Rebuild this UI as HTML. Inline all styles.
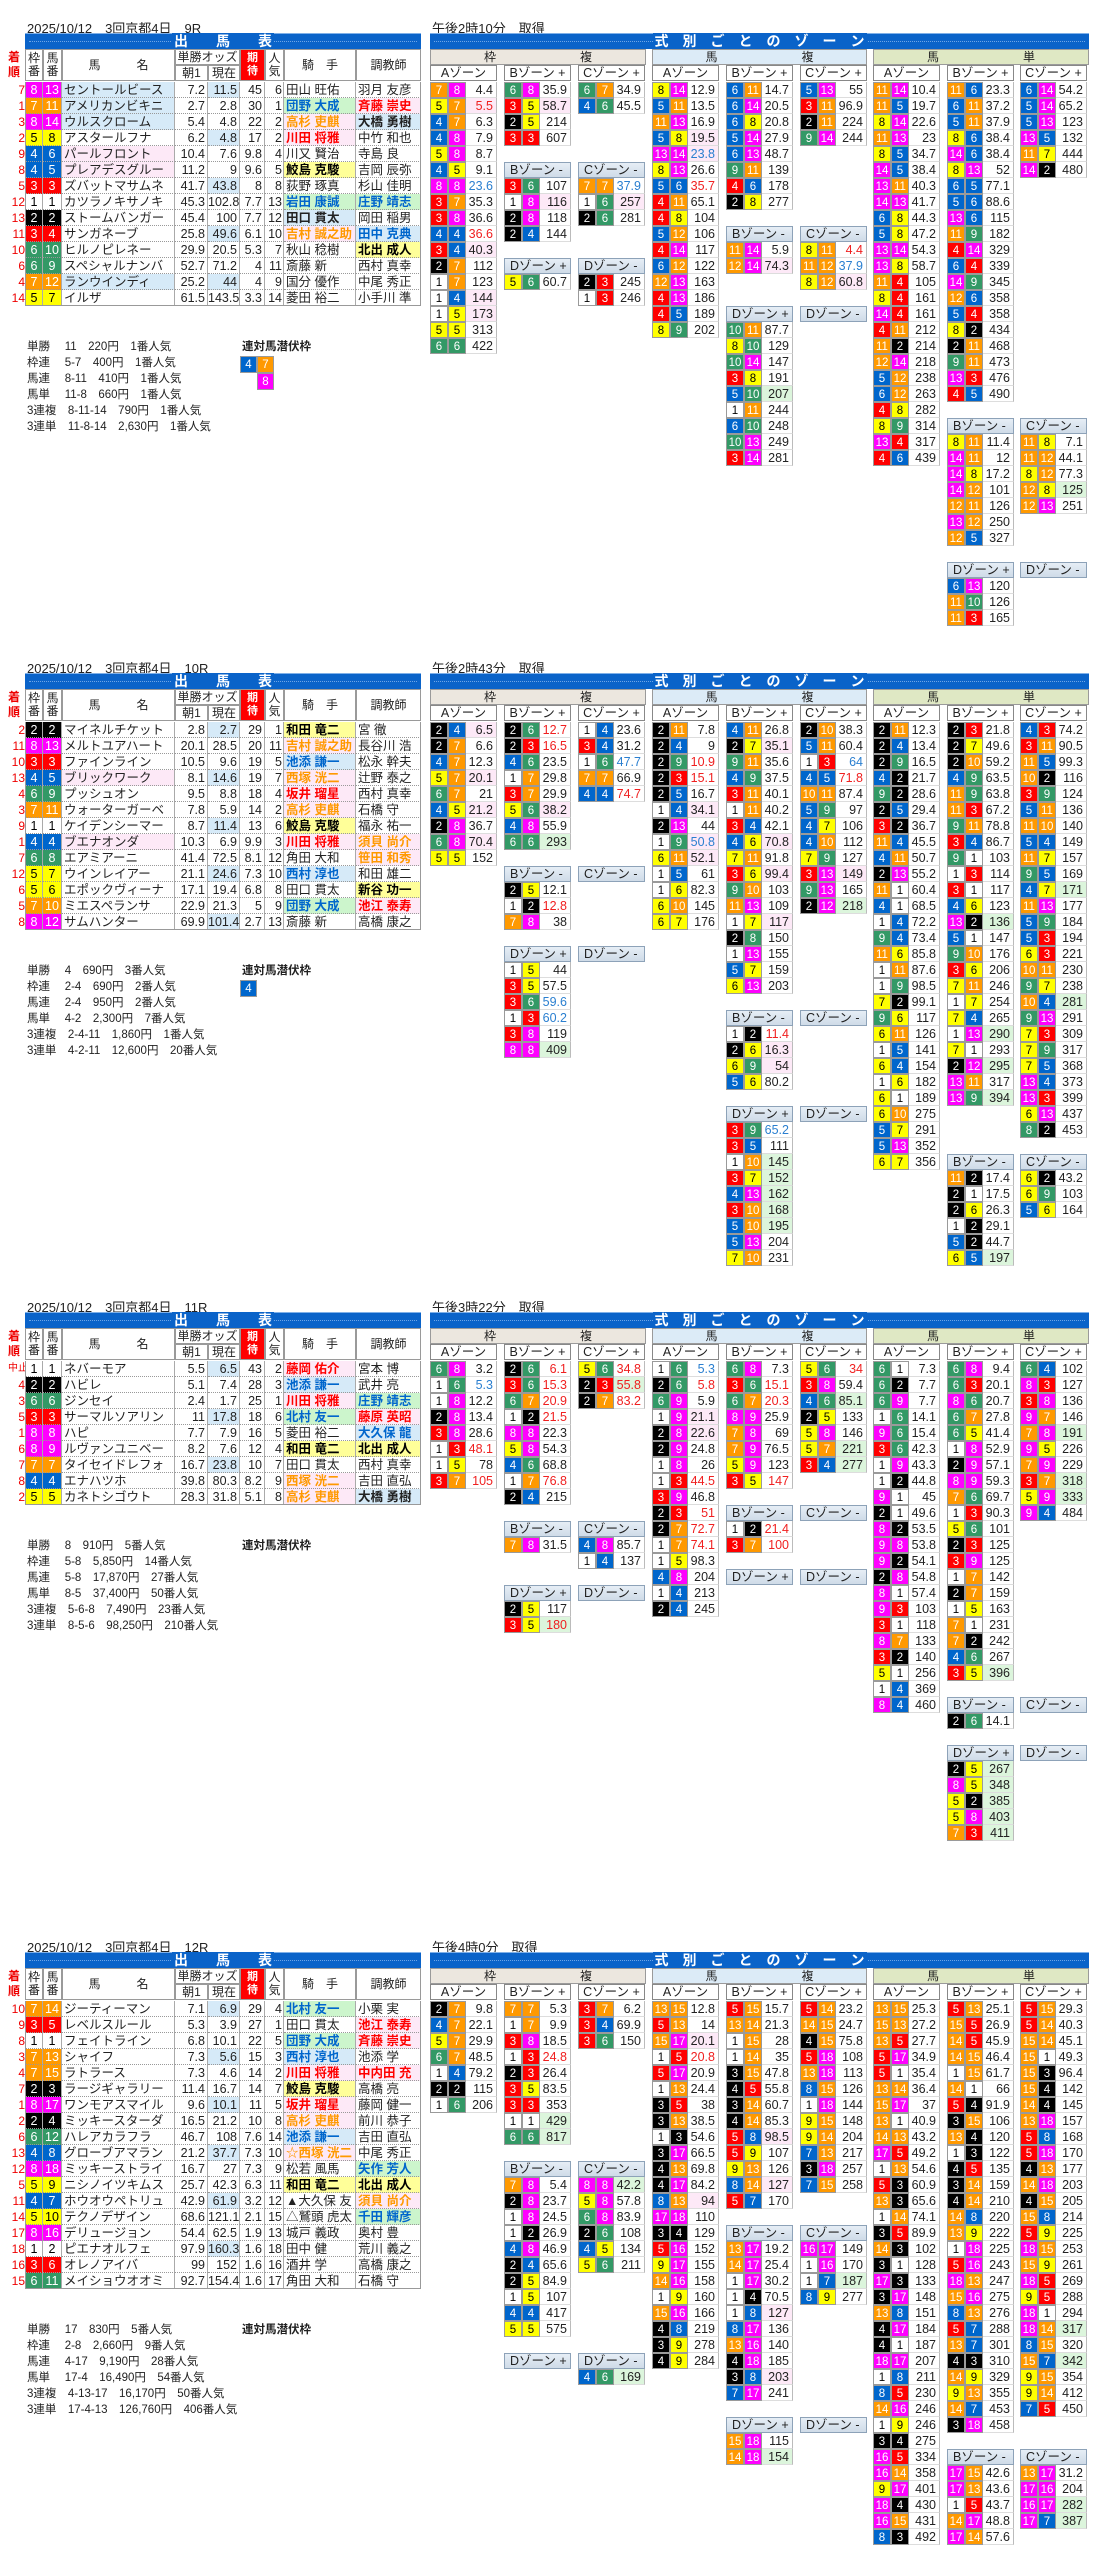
<!DOCTYPE html>
<html><head><meta charset="utf-8">
<style>
*{box-sizing:border-box;margin:0;padding:0}
body{width:1093px;height:2560px;background:#fff;position:relative;overflow:hidden;font-family:"Liberation Sans","Noto Sans CJK JP",sans-serif;font-size:12px;color:#222}
.a{position:absolute;white-space:nowrap}
.bar{background:#0a63c9;color:#fff;font-weight:bold;font-size:14px;text-align:center;line-height:15px;border-top:1px solid #7fb0e8}
.bar:after{content:"";position:absolute;left:4px;right:4px;top:7px;border-top:1px dotted #6fa6e6;z-index:0}
.bar span{position:relative;z-index:1;background:#0a63c9;padding:0 2px}
.c{position:absolute;height:16px;line-height:16px;text-align:center;font-size:11.5px;border:1px solid #9a9a9a}
.v{position:absolute;height:16px;line-height:16px;text-align:right;padding-right:3px;font-size:12.5px;border-right:1px solid #bbb;border-bottom:1px solid #ddd}
.zh{position:absolute;height:16px;line-height:15px;background:linear-gradient(#e6eef6,#cfdbe8);border:1px solid #8da2b8;font-size:12.5px;padding-left:5px}
.zs{position:absolute;height:16px;line-height:15px;background:#fff;border:1px solid #888;font-size:12.5px;text-align:center}
.th{position:absolute;border:1px solid #9a9a9a;text-align:center;font-size:12px;background:#fff;display:flex;align-items:center;justify-content:center;line-height:13px}
.td{position:absolute;height:16px;line-height:16px;font-size:12.5px;border-right:1px solid #aaa;border-bottom:1px dotted #999;overflow:hidden}
.pay{position:absolute;font-size:11.5px;line-height:16px}
</style></head><body>
<script>
const FC={1:['#fff','#000'],2:['#000','#fff'],3:['#f00','#fff'],4:['#0066cc','#fff'],5:['#ff0','#000'],6:['#339966','#fff'],7:['#f90','#fff'],8:['#f0f','#fff']};
const ST={b:['#d6eaf8','#0066cc'],g:['#ccf5cc','#0066cc'],o:['#fde9f7','#f90'],r:['#fde9f7','#f00'],y:['#ffff99','#000'],p:['#fde9f7','#222'],l:['#d6eaf8','#222']};
const COLX=[430,504,578,652,726,800,873,947,1020];
let H='';
function el(cls,x,y,w,h,txt,style){H+=`<div class="${cls}" style="left:${x}px;top:${y}px;width:${w}px;${h?'height:'+h+'px;':''}${style||''}">${txt}</div>`;}
function frames(N){const cnt=Array(9).fill(1);let ex=N-8,f=8;while(ex>0){cnt[f]++;ex--;f--;if(f<1)f=8;}const m={};let n=1;for(let i=1;i<=8;i++)for(let k=0;k<cnt[i];k++)m[n++]=i;return m;}
function cell(x,y,fr,n){const c=FC[fr]||FC[1];el('c',x,y,18,0,n,`background:${c[0]};color:${c[1]}`);}
function zoneRows(off,col,start,data,fm,isFrame){
 const x=COLX[col];let r=start;
 data.trim().split(/\s+/).forEach(t=>{if(!t)return;const m=t.match(/^(\d+)-(\d+)\/([\d.]+)([a-z]*)$/);if(!m)return;
  const y=off+82+16*r;const a=+m[1],b=+m[2];
  cell(x,y,isFrame?a:fm[a],a);cell(x+18,y,isFrame?b:fm[b],b);
  let bg='#fff',co='#222';const f=m[4];
  if(f.includes('p'))bg='#fde9f7';if(f.includes('g'))bg='#dcf5dc';
  if(f.includes('r'))co='#f02020';if(f.includes('b'))co='#2a7fd0';
  el('v',x+36,y,31,0,m[3],`background:${bg};color:${co}`);r++;});
}
function section(S){
 const off=S.off,N=S.horses.length,fm=frames(N);
 el('a',27,off+18,200,16,S.title,'font-size:13px');
 el('a',432,off+18,200,16,S.time,'font-size:13px');
 el('a bar',25,off+33,396,16,'<span>出　　馬　　表</span>');
 el('a bar',430,off+33,659,16,'<span>式　別　ご　と　の　ゾ　ー　ン</span>');
 // category headers
 el('th',430,off+49,216,16,'枠　　　　　　　複','background:#ece7df');
 el('th',652,off+49,215,16,'馬　　　　　　　複','background:#dcebf7');
 el('th',873,off+49,216,16,'馬　　　　　　　単','background:#dfe8c4');
 const lab=['Aゾーン','Bゾーン +','Cゾーン +'];
 for(let i=0;i<9;i++)el('zs',COLX[i],off+65,67,16,lab[i%3]);
 // left table header
 el('a',8,off+50,18,30,'着<br>順','color:#e00;font-size:12px;line-height:15px;font-weight:bold');
 el('th',25,off+49,18,32,'枠<br>番');
 el('th',43,off+49,19,32,'馬<br>番');
 el('th',62,off+49,113,32,'馬　　　名');
 el('th',175,off+49,65,16,'単勝オッズ');
 el('th',175,off+65,33,16,'朝1');
 el('th',208,off+65,32,16,'現在');
 el('th',240,off+49,25,32,'期<br>待','background:#f00;color:#fff;font-size:11px;font-weight:bold');
 el('th',265,off+49,19,32,'人<br>気');
 el('th',284,off+49,72,32,'騎　手');
 el('th',356,off+49,65,32,'調教師');
 S.horses.forEach((h,i)=>{
  const y=off+82+16*i;const [rk,fr,num,name,am,now,ex,pop,jk,tr,nb]=h;
  el('a',8,y,17,16,rk,'color:#e00;text-align:right;font-size:12px;line-height:16px;'+(rk=='中止'?'font-size:10px;':''));
  const c=FC[fr];
  el('td',25,y,18,16,fr,`background:${c[0]};color:${c[1]};text-align:center;border-left:1px solid #aaa`);
  el('td',43,y,19,16,num,`background:${c[0]};color:${c[1]};text-align:center`);
  const nbs=nb?ST[nb][0]:'#fff';
  el('td',62,y,113,16,name,`background:${nbs};padding-left:2px`);
  el('td',175,y,33,16,am,'text-align:right;padding-right:2px');
  el('td',208,y,32,16,now,'text-align:right;padding-right:2px;background:'+(i%3==0?'#d6eaf8':'#fff'));
  el('td',240,y,25,16,ex,'text-align:right;padding-right:2px');
  el('td',265,y,19,16,pop,'text-align:right;padding-right:1px');
  let [jn,js]=jk.split('|');let jst=js?ST[js]:['#fff','#222'];
  el('td',284,y,72,16,jn,`background:${jst[0]};color:${jst[1]};padding-left:2px;${js?'font-weight:bold;':''}`);
  let [tn,ts]=tr.split('|');let tst=ts?ST[ts]:['#fff','#222'];
  el('td',356,y,65,16,tn,`background:${tst[0]};color:${tst[1]};padding-left:2px;${ts?'font-weight:bold;':''}`);
 });
 el('a',25,off+82,396,16*N,'','border:1px solid #999;border-top:none');
 const py=off+82+16*N+33;
 S.pay.forEach((p,i)=>{el('pay',27,py+16*i,300,16,p);});
 el('pay',242,py,120,16,'連対馬潜伏枠','font-weight:bold');
 (S.fuku||[]).forEach((rw,ri)=>rw.forEach((f,ci)=>{if(f){const c=FC[f];el('c',240+17*ci,py+17+17*ri,17,0,f,`height:17px;background:${c[0]};color:${c[1]}`);}}));
 S.zones.forEach(z=>{
  const [col,h,label,data]=z;const isFrame=col<3;
  if(h<0){zoneRows(off,col,0,data,fm,isFrame);}
  else{el('zh',COLX[col],off+82+16*h,67,16,label);if(data)zoneRows(off,col,h+1,data,fm,isFrame);}
 });
}
const S1={off:0,title:'2025/10/12　3回京都4日　9R',time:'午後2時10分　取得',
horses:[
['7',8,13,'セントールビースト','7.2','11.5','45','6','田山 旺佑','羽月 友彦','l'],
['1',7,11,'アメリカンビキニ','2.7','2.8','30','1','団野 大成|g','斉藤 崇史|r','l'],
['3',8,14,'ウルスクローム','5.4','4.8','22','2','高杉 吏麒|o','大橋 勇樹|l','l'],
['2',5,8,'アスタールフナ','6.2','4.8','17','2','川田 将雅|r','中竹 和也'],
['9',4,6,'パールフロント','10.4','7.6','9.8','4','川又 賢治','寺島 良','p'],
['8',4,5,'プレアデスグループ','11.2','9','9.6','5','鮫島 克駿|y','吉岡 辰弥','p'],
['5',3,3,'ズバットマサムネ','41.7','43.8','8','8','荻野 琢真','杉山 佳明'],
['12',1,1,'カツラノキサノキ','45.3','102.8','7.7','13','岩田 康誠|g','庄野 靖志|g'],
['13',2,2,'ストームバンガード','45.4','100','7.7','12','田口 貫太|l','岡田 稲男'],
['11',3,4,'サンガネーブ','25.8','49.6','6.1','10','吉村 誠之助|o','田中 克典|b'],
['10',6,10,'ヒルノピレネー','29.9','20.5','5.3','7','秋山 稔樹','北出 成人|y'],
['6',6,9,'スペシャルナンバー','52.7','71.2','4','11','斎藤 新','西村 真幸'],
['4',7,12,'ランウインディ','25.2','44','4','9','国分 優作','中尾 秀正','l'],
['14',5,7,'イルザ','61.5','143.5','3.3','14','菱田 裕二','小手川 準']],
pay:['単勝　 11　220円　1番人気','枠連　 5-7　400円　1番人気','馬連　 8-11　410円　1番人気','馬単　 11-8　660円　1番人気','3連複　8-11-14　790円　1番人気','3連単　11-8-14　2,630円　1番人気'],
fuku:[[4,7],[0,8]],
zones:[
[0,-1,'','7-8/4.4 5-7/5.5rp 4-7/6.3 4-8/7.9 5-8/8.7 4-5/9.1 8-8/23.6b 3-7/35.3 3-8/36.6 4-4/36.6r 3-4/40.3p 2-7/112 1-7/123 1-4/144p 1-5/173p 5-5/313 6-6/422'],
[1,-1,'','6-8/35.9 3-5/58.7p 2-5/214 3-3/607'],
[2,-1,'','6-7/34.9 4-6/45.5'],
[1,5,'Bゾーン -','3-6/107 1-8/116p 2-8/118 2-4/144'],
[2,5,'Cゾーン -','7-7/37.9b 1-6/257p 2-6/281'],
[1,11,'Dゾーン +','5-6/60.7'],
[2,11,'Dゾーン -','2-3/245 1-3/246'],
[3,-1,'','8-14/12.9 5-11/13.5 11-13/16.9 5-8/19.5p 13-14/23.8bp 8-13/26.6 5-6/35.7r 4-11/65.1 4-8/104 5-12/106 4-14/117 6-12/122 12-13/163 4-13/186 4-5/189 8-9/202'],
[4,-1,'','6-11/14.7 6-14/20.5 6-8/20.8 5-14/27.9 6-13/48.7 9-11/139 4-6/178 2-8/277'],
[5,-1,'','5-13/55 3-11/96.9 2-11/224 9-14/244'],
[4,9,'Bゾーン -','11-14/5.9 12-14/74.3p'],
[5,9,'Cゾーン -','8-11/4.4r 11-12/37.9b 8-12/60.8p'],
[4,14,'Dゾーン +','10-11/87.7 8-10/129 10-14/147 3-8/191 5-10/207g 1-11/244 6-10/248 10-13/249 3-14/281'],
[5,14,'Dゾーン -',''],
[6,-1,'','11-14/10.4 11-5/19.7 8-14/22.6 11-13/23 8-5/34.7 14-5/38.4 13-11/40.3 14-13/41.7 6-8/44.3 5-8/47.2 13-14/54.3 13-8/58.7 11-4/105 8-4/161 14-4/161 4-11/212 11-2/214 12-14/218 5-12/238 6-12/263 4-8/282 8-9/314 13-4/317 4-6/439'],
[7,-1,'','11-6/23.3 6-11/37.2 5-11/37.9 8-6/38.4 14-6/38.4 8-13/52 6-5/77.1 5-6/88.6 13-6/115 11-9/182 4-14/329 6-4/339 14-9/345 12-6/358 5-4/358 8-2/434 2-11/468 9-11/473 13-3/476 4-5/490'],
[8,-1,'','6-14/54.2 5-14/65.2 5-13/123 13-5/132 11-7/444 14-2/480'],
[7,21,'Bゾーン -','8-11/11.4 14-11/12 14-8/17.2 14-12/101 12-11/126 13-12/250 12-5/327'],
[8,21,'Cゾーン -','11-8/7.1 11-12/44.1 8-12/77.3 12-8/125g 12-13/251'],
[7,30,'Dゾーン +','6-13/120 11-10/126 11-3/165'],
[8,30,'Dゾーン -','']
]};
const S2={off:640,title:'2025/10/12　3回京都4日　10R',time:'午後2時43分　取得',
horses:[
['2',2,2,'マイネルチケット','2.8','2.7','29','1','和田 竜二|y','宮 徹'],
['11',8,13,'メルトユアハート','20.1','28.5','20','11','吉村 誠之助|o','長谷川 浩大'],
['10',3,3,'ファインライン','10.5','9.6','19','5','池添 謙一|b','松永 幹夫'],
['13',4,5,'ブリックワーク','8.1','14.6','19','7','西塚 洸二|o','辻野 泰之','p'],
['4',6,9,'プッシュオン','9.5','8.8','18','4','坂井 瑠星|r','西村 真幸'],
['3',7,11,'ウォーターガーベラ','7.8','5.9','14','2','高杉 吏麒|o','石橋 守'],
['9',1,1,'ケイデンシーマーク','8.7','11.4','13','6','鮫島 克駿|y','福永 祐一'],
['1',4,4,'ブエナオンダ','10.3','6.9','9.9','3','川田 将雅|r','須貝 尚介|o','p'],
['7',6,8,'エアミアーニ','41.4','72.5','8.1','12','角田 大和','笹田 和秀|o'],
['12',5,7,'ウインレイアー','21.1','24.6','7.3','10','西村 淳也|b','和田 雄二'],
['6',5,6,'エポックヴィーナス','17.1','19.4','6.8','8','田口 貫太','新谷 功一|y'],
['5',7,10,'ミエスペランサ','22.9','21.3','5','9','団野 大成|g','池江 泰寿|r'],
['8',8,12,'サムハンター','69.9','101.4','2.7','13','斎藤 新','高橋 康之']],
pay:['単勝　 4　690円　3番人気','枠連　 2-4　690円　2番人気','馬連　 2-4　950円　2番人気','馬単　 4-2　2,300円　7番人気','3連複　2-4-11　1,860円　1番人気','3連単　4-2-11　12,600円　20番人気'],
fuku:[[4]],
zones:[
[0,-1,'','2-4/6.5p 2-7/6.6 4-7/12.3 5-7/20.1p 6-7/21 4-5/21.2p 2-8/36.7 6-8/70.4p 5-5/152'],
[1,-1,'','2-6/12.7r 2-3/16.5r 4-6/23.5 1-7/29.8 3-7/29.9 5-6/38.2p 4-8/55.9 6-6/293g'],
[2,-1,'','1-4/23.6 3-4/31.2 1-6/47.7b 7-7/66.9 4-4/74.7r'],
[1,9,'Bゾーン -','2-5/12.1 1-2/12.8r 7-8/38'],
[2,9,'Cゾーン -',''],
[1,14,'Dゾーン +','1-5/44 3-5/57.5 3-6/59.6b 1-3/60.2b 3-8/119 8-8/409g'],
[2,14,'Dゾーン -',''],
[3,-1,'','2-11/7.8 2-4/9 2-9/10.9r 2-3/15.1r 2-5/16.7 1-4/34.1p 2-13/44 1-9/50.8bp 6-11/52.1p 1-5/61 1-6/82.3 6-10/145 6-7/176'],
[4,-1,'','4-11/26.8 2-7/35.1p 9-11/35.6 4-9/37.5 3-11/40.1 1-11/40.2 3-4/42.1 4-6/70.8p 7-11/91.8 3-6/99.4p 9-10/103 11-13/109 1-7/117p 2-8/150 1-13/155 5-7/159 6-13/203'],
[5,-1,'','2-10/38.3 5-11/60.4 1-3/64b 4-5/71.8r 10-11/87.4 5-9/97 4-7/106 4-10/112 7-9/127 3-13/149p 9-13/165 2-12/218g'],
[4,18,'Bゾーン -','1-2/11.4r 2-6/16.3p 6-9/54p 5-6/80.2'],
[5,18,'Cゾーン -',''],
[4,24,'Dゾーン +','3-9/65.2b 3-5/111 1-10/145g 3-7/152g 4-13/162g 3-10/168g 5-10/195g 5-13/204 7-10/231'],
[5,24,'Dゾーン -',''],
[6,-1,'','2-11/12.3 2-4/13.4 2-9/16.5 4-2/21.7 9-2/28.6 2-5/29.4 3-2/36.7 11-4/45.5 4-11/50.7 2-13/55.2 11-1/60.4 4-1/68.5 1-4/72.2 9-4/73.4 11-6/85.8 1-11/87.6 1-9/98.5 7-2/99.1 9-6/117 6-11/126 1-5/141 6-4/154 1-6/182 6-1/189 6-10/275 5-7/291 5-13/352 6-7/356'],
[7,-1,'','2-3/21.8 2-7/49.6 2-10/59.2 4-9/63.5 11-9/63.8 11-3/67.2 9-11/78.8 3-4/86.7 9-1/103 1-3/114 3-1/117 4-6/123 13-2/136g 5-1/147 9-10/176 3-6/206 7-11/246 1-7/254 7-4/265 1-13/290g 7-1/293 2-12/295g 13-11/317 13-9/394g'],
[8,-1,'','4-3/74.2 3-11/90.5 11-5/99.3 10-2/116 3-9/124 5-11/136 11-10/140 5-4/149 11-7/157 9-5/169 4-7/171g 11-13/177 5-9/184 5-3/194 6-3/221 10-11/230 9-7/238 10-4/281g 9-13/291 7-3/309 7-9/317 7-5/368 13-4/373 13-3/399 6-13/437 8-2/453'],
[7,27,'Bゾーン -','11-2/17.4 2-1/17.5 2-6/26.3 1-2/29.1 5-2/44.7 6-5/197g'],
[8,27,'Cゾーン -','6-2/43.2 6-9/103 5-6/164']
]};
const S3={off:1279,title:'2025/10/12　3回京都4日　11R',time:'午後3時22分　取得',
horses:[
['中止',1,1,'ネバーモア','5.5','6.5','43','2','藤岡 佑介|r','宮本 博'],
['4',2,2,'ハビレ','5.1','7.4','28','3','池添 謙一|b','武井 亮'],
['3',6,6,'ジンセイ','2.4','1.7','25','1','川田 将雅|r','庄野 靖志|g'],
['5',3,3,'サーマルソアリング','11','17.8','18','6','北村 友一|g','藤原 英昭|r'],
['1',8,8,'ハピ','7.7','7.9','16','5','菱田 裕二','大久保 龍志|b'],
['6',8,9,'ルヴァンユニベール','8.2','7.6','12','4','和田 竜二|y','北出 成人|y'],
['7',7,7,'タイセイドレフォン','16.7','23.8','10','7','田口 貫太','西村 真幸'],
['8',4,4,'エナハツホ','39.8','80.3','8.2','9','西塚 洸二|o','吉田 直弘'],
['2',5,5,'カネトシゴウト','28.3','31.8','5.1','8','高杉 吏麒|o','大橋 勇樹|l']],
pay:['単勝　 8　910円　5番人気','枠連　 5-8　5,850円　14番人気','馬連　 5-8　17,870円　27番人気','馬単　 8-5　37,400円　50番人気','3連複　5-6-8　7,490円　23番人気','3連単　8-5-6　98,250円　210番人気'],
fuku:[],
zones:[
[0,-1,'','6-8/3.2 1-6/5.3b 1-8/12.2 2-8/13.4 3-8/28.6 1-3/48.1r 1-5/78 3-7/105r'],
[1,-1,'','2-6/6.1r 3-6/15.3r 6-7/20.9r 1-2/21.5r 8-8/22.3 5-8/54.3 4-6/68.8 1-7/76.8r 2-4/215'],
[2,-1,'','5-6/34.8r 2-3/55.8rg 2-7/83.2r'],
[1,10,'Bゾーン -','7-8/31.5'],
[2,10,'Cゾーン -','4-8/85.7 1-4/137'],
[1,14,'Dゾーン +','2-5/117 3-5/180rg'],
[2,14,'Dゾーン -',''],
[3,-1,'','1-6/5.3b 2-6/5.8r 6-9/5.9 1-9/21.1p 2-8/22.6p 2-9/24.8 1-8/26 1-3/44.5r 3-9/46.8 2-3/51r 2-7/72.7r 1-7/74.1r 1-5/98.3 4-8/204 1-4/213 2-4/245'],
[4,-1,'','6-8/7.3 3-6/15.1r 6-7/20.3r 8-9/25.9 7-8/69 7-9/76.5 5-9/123 3-5/147r'],
[5,-1,'','5-6/34r 3-8/59.4 4-6/85.1g 2-5/133 5-8/146 5-7/221g 3-4/277g'],
[4,9,'Bゾーン -','1-2/21.4r 3-7/100r'],
[5,9,'Cゾーン -',''],
[4,13,'Dゾーン +',''],
[5,13,'Dゾーン -',''],
[6,-1,'','6-1/7.3 6-2/7.7 6-9/7.7 1-6/14.1 9-6/15.4 3-6/42.3 1-9/43.3 1-2/44.8 9-1/45 2-1/49.6 8-2/53.5 9-8/53.8 9-2/54.1 2-8/54.8 8-1/57.4 9-3/103 3-1/118 8-7/133 3-2/140 5-1/256 1-4/369 8-4/460'],
[7,-1,'','6-8/9.4 6-3/20.1 8-6/20.7 6-7/27.8 6-5/41.4 1-8/52.9 2-9/57.1 8-9/59.3 7-6/69.7 1-3/90.3 5-6/101 2-3/125 3-9/125 1-7/142 2-7/159 1-5/163 7-1/231 7-2/242 4-6/267 3-5/396g'],
[8,-1,'','6-4/102 8-3/127 3-8/136 9-7/146 7-8/191g 9-5/226 7-9/229 3-7/318g 5-9/333g 9-4/484'],
[7,21,'Bゾーン -','2-6/14.1'],
[8,21,'Cゾーン -',''],
[7,24,'Dゾーン +','2-5/267g 8-5/348g 5-2/385g 5-8/403g 7-3/411g'],
[8,24,'Dゾーン -','']
]};
const S4={off:1919,title:'2025/10/12　3回京都4日　12R',time:'午後4時0分　取得',
horses:[
['10',7,14,'ジーティーマン','7.1','6.9','29','4','北村 友一|g','小栗 実'],
['9',3,5,'レベルスルール','5.3','3.9','27','1','田口 貫太','池江 泰寿|r'],
['8',1,1,'フェイトライン','6.8','10.1','22','5','団野 大成|g','斉藤 崇史|r'],
['3',7,13,'シャイフ','7.3','5.6','15','3','西村 淳也|b','池添 学'],
['4',7,15,'ラトラース','7.3','4.6','14','2','川田 将雅|r','中内田 充正|r'],
['7',2,3,'ラージギャラリー','11.4','16.7','14','7','鮫島 克駿|y','高橋 亮'],
['1',8,17,'ワンモアスマイル','9.6','10.1','11','5','坂井 瑠星|r','藤岡 健一'],
['2',2,4,'ミッキースターダム','16.5','21.2','10','8','高杉 吏麒|o','前川 恭子'],
['6',6,12,'ハレアカラフラ','46.7','108','7.6','14','池添 謙一|b','吉田 直弘'],
['13',4,8,'グローブアマランス','21.2','37.7','7.3','10','☆西塚 洸二|o','中尾 秀正'],
['12',8,18,'ミッキーストライク','16.7','27','7.3','9','松若 風馬','矢作 芳人|g'],
['5',5,9,'ニシノイツキムスメ','25.7','42.3','6.3','11','和田 竜二|y','北出 成人|y'],
['11',4,7,'ホウオウペトリュス','42.9','61.9','3.2','12','▲大久保 友雅','須貝 尚介|o'],
['14',5,10,'テクノデザイン','68.6','121.1','2.1','15','△鷲頭 虎太','千田 輝彦|g'],
['17',8,16,'デリュージョン','54.4','62.5','1.9','13','城戸 義政','奥村 豊'],
['18',1,2,'ピエナオルフェ','97.9','160.3','1.6','18','田中 健','荒川 義之'],
['16',3,6,'オレノアイバ','99','152','1.6','16','酒井 学','高橋 康之'],
['15',6,11,'メイショウオオミネ','92.7','154.4','1.6','17','角田 大和','石橋 守']],
pay:['単勝　 17　830円　5番人気','枠連　 2-8　2,660円　9番人気','馬連　 4-17　9,190円　28番人気','馬単　 17-4　16,490円　54番人気','3連複　4-13-17　16,170円　50番人気','3連単　17-4-13　126,760円　406番人気'],
fuku:[],
zones:[
[0,-1,'','2-7/9.8 4-7/22.1 5-7/29.9 6-7/48.5 1-4/79.2 2-2/115 1-6/206'],
[1,-1,'','7-7/5.3 1-7/9.9 3-8/18.5 1-3/24.8r 2-3/26.4 3-5/83.5 3-3/353 1-1/429g 6-6/817g'],
[2,-1,'','3-7/6.2 3-4/69.9 3-6/150'],
[1,10,'Bゾーン -','7-8/5.4 2-8/23.7 1-8/24.5 1-2/26.9 4-8/46.9 2-4/65.6 2-5/84.9 1-5/107 4-4/417 5-5/575'],
[2,10,'Cゾーン -','8-8/42.2g 5-8/57.8 6-8/83.9 2-6/108 4-5/134 5-6/211'],
[1,22,'Dゾーン +',''],
[2,22,'Dゾーン -','4-6/169g'],
[3,-1,'','13-15/12.8 5-13/14 15-17/20.1p 1-5/20.8r 5-17/20.9 1-13/24.4 3-5/38 3-13/38.5 1-3/54.6 3-17/66.5 4-13/69.8 4-17/84.2 8-13/94p 17-18/110 3-4/129 5-16/152 9-17/155 14-16/158 1-9/160 15-16/166 4-8/219 3-9/278 4-9/284'],
[4,-1,'','5-15/15.7 13-14/21.3 1-15/28 1-14/35 3-15/47.8 4-5/55.8 3-14/60.7 4-14/85.3 5-8/98.5p 5-9/107 9-13/126 8-14/127p 5-7/170'],
[5,-1,'','5-14/23.2 14-15/24.7 4-15/75.8 5-18/108 13-18/113 8-15/126 1-18/144 9-15/148 9-14/204 7-13/217 3-18/257 7-15/258'],
[4,14,'Bゾーン -','13-17/19.2 14-17/25.4 1-17/30.2 1-4/70.5 1-8/127p 8-17/136 13-16/140 4-18/185 3-8/203p 7-17/241'],
[5,14,'Cゾーン -','16-17/149 1-16/170 1-7/187g 8-9/277'],
[4,26,'Dゾーン +','15-18/115 14-18/154g'],
[5,26,'Dゾーン -',''],
[6,-1,'','13-15/25.3 15-13/27.2 13-5/27.7 5-17/34.9 5-1/35.4 13-14/36.4 15-17/37 13-1/40.9 14-13/43.2 17-5/49.2 1-13/54.6 5-3/60.9 13-3/65.6 1-14/74.1 3-5/89.9 14-3/102 3-1/128 17-3/133 3-17/148 13-8/151 4-17/184 4-1/187 18-17/207 1-8/211 8-5/230 14-16/246 1-9/246 3-4/275 16-5/334 16-14/358 9-17/401 18-4/430 16-15/431 8-3/492'],
[7,-1,'','5-13/25.1 15-5/26.9 14-5/45.9 14-15/46.4 1-15/61.7 14-1/66 5-4/91.9 3-15/106 13-4/120 1-3/122 4-5/135 3-14/159 4-14/210 14-8/220 13-9/222 1-18/225 5-16/243 18-13/247 15-16/275 8-13/276 5-7/288 13-7/301 4-3/310 14-9/329 9-13/355 14-7/453 3-18/458'],
[8,-1,'','5-15/29.3 5-14/40.3 15-14/45.1 15-1/49.3 15-3/96.4 15-4/142 14-4/145 13-18/157 5-8/168 5-18/170 4-13/177 14-18/203 4-15/205 15-8/214 5-9/225 18-15/253 15-9/261 18-5/269 9-5/288 18-1/294 18-14/317g 8-15/320 15-7/342g 9-15/354 9-14/412 7-5/450'],
[7,28,'Bゾーン -','17-15/42.6 17-13/43.6 1-5/43.7 14-17/48.8 17-14/57.6'],
[8,28,'Cゾーン -','13-17/31.2 17-16/204 16-17/282g 17-7/387g']
]};
[S1,S2,S3,S4].forEach(section);
document.body.insertAdjacentHTML('beforeend',H);
</script>
</body></html>
